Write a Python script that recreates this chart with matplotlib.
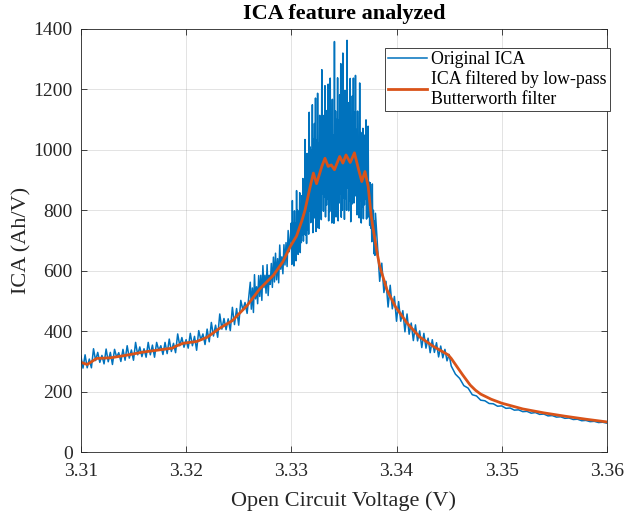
import numpy as np
import matplotlib
matplotlib.use('Agg')
import matplotlib.pyplot as plt

plt.rcParams['font.family'] = ['Liberation Serif', 'DejaVu Serif']

# low-pass Butterworth filtered ICA (V, Ah/V)
filt_v = [3.3100, 3.3106, 3.3115, 3.3128, 3.3144, 3.3159, 3.3172, 3.3187, 3.3190,
          3.3197, 3.3210, 3.3220, 3.3232, 3.3244, 3.3258, 3.3270, 3.3283, 3.3292,
          3.3299, 3.3305, 3.3310, 3.3313, 3.3318, 3.3321, 3.3324, 3.3329, 3.3332,
          3.3335, 3.3338, 3.3341, 3.3346, 3.3349, 3.3352, 3.3356, 3.3360, 3.3364,
          3.3367, 3.3370, 3.3373, 3.3376, 3.3378, 3.3381, 3.3384, 3.3391, 3.3399,
          3.3410, 3.3422, 3.3435, 3.3449, 3.3452, 3.3458, 3.3463, 3.3470, 3.3475,
          3.3480, 3.3490, 3.3500, 3.3520, 3.3540, 3.3560, 3.3580, 3.3600]
filt_ica = [297, 290, 310, 312, 321, 331, 337, 344, 350,
            360, 366, 380, 410, 435, 485, 540, 585, 630,
            680, 715, 765, 800, 879, 923, 888, 945, 972,
            945, 950, 934, 978, 956, 983, 958, 990, 934,
            895, 928, 880, 780, 735, 670, 615, 536, 481,
            427, 381, 350, 322, 310, 280, 255, 222, 205,
            192, 175, 162, 143, 130, 119, 109, 100]

# original (noisy) ICA in five stretches
raw_a = [318, 278, 322, 279, 308, 279, 342, 303, 330, 297, 320, 292, 341, 299, 330,
         290, 340, 314, 329, 300, 340, 304, 352, 311, 338, 304, 363, 322, 348, 316,
         342, 314, 363, 322, 354, 314, 363, 337, 352, 323, 363, 326, 374, 333, 360,
         329, 391, 352, 379, 347, 372, 344, 393, 352, 383, 337, 402, 371, 391, 356,
         407, 365, 429, 384, 420, 380, 457, 407, 442, 405, 441, 402, 479, 422, 475,
         420, 502, 470, 495, 459, 527]
raw_b = [562, 473, 543, 462, 587, 507, 547, 491, 584, 515, 585, 502, 617, 544, 585,
         526, 620, 518, 585, 555, 624, 545, 645, 563, 658, 570, 640, 560, 685, 605,
         646, 590, 686, 619, 693, 614, 733, 663, 708]
raw_peak = [758, 621, 832, 646, 757, 616, 798, 647, 757, 633, 865, 675, 800, 654, 795,
            682, 858, 660, 808, 693, 848, 717, 905, 698, 857, 723, 1034, 718, 907, 690,
            988, 735, 926, 721, 1124, 797, 1009, 759, 998, 804, 1149, 726, 1035, 774, 1087,
            791, 1171, 730, 1032, 742, 1187, 791, 1023, 740, 1114, 795, 1030, 769, 1265, 855,
            1114, 797, 1091, 844, 1212, 778, 1075, 817, 1130, 836, 1217, 765, 1091, 796, 1237,
            836, 1062, 758, 1167, 802, 1050, 757, 1358, 839, 1128, 778, 1100, 826, 1238, 765,
            1099, 824, 1182, 855, 1285, 777, 1130, 800, 1320, 841, 1095, 770, 1196, 839, 1094,
            800, 1362, 874, 1156, 798, 1112, 831, 1236, 762, 1096, 820, 1178, 858, 1237, 824,
            1125, 847, 1246, 867, 1067, 785, 1128, 822, 1024, 775, 1221, 830, 1058, 758, 983,
            810, 1071, 772, 994, 818, 1049, 836, 1099, 771, 995, 776, 1078, 780, 893, 750,
            891, 741, 819, 696, 887, 706, 800, 656, 765, 651, 790]
raw_c = [680, 565, 625, 528, 565, 480, 552, 474, 515, 433, 498, 433, 468, 398, 457,
         390, 427, 369, 421, 368, 401, 346, 393, 344, 377, 329, 372, 330, 362, 315,
         351, 312, 340, 302, 323]
raw_d = [285, 258, 244, 220, 212, 190, 186, 172, 170, 161, 160, 152, 153, 145, 146,
         139, 140, 134, 135, 129, 131, 125, 126, 120, 121, 116, 117, 112, 113, 108,
         109, 104, 105, 101, 102, 98, 99, 96]

raw_v = np.concatenate([np.linspace(3.3100, 3.3260, len(raw_a)),
                        np.linspace(3.3261, 3.3299, len(raw_b)),
                        np.linspace(3.3300, 3.3380, len(raw_peak)),
                        np.linspace(3.3382, 3.3450, len(raw_c)),
                        np.linspace(3.3452, 3.3600, len(raw_d))])
raw_ica = np.concatenate([raw_a, raw_b, raw_peak, raw_c, raw_d])

x_ticks = [3.31, 3.32, 3.33, 3.34, 3.35, 3.36]
y_ticks = [0, 200, 400, 600, 800, 1000, 1200, 1400]

fig = plt.figure(figsize=(6.27, 5.15), dpi=100)
ax = fig.add_axes([0.129, 0.122, 0.839, 0.822])

ax.plot(raw_v, raw_ica, color='#0072BD', lw=1.1, label='Original ICA')
ax.plot(filt_v, filt_ica, color='#D95319', lw=2.0,
        label='ICA filtered by low-pass\nButterworth filter')

ax.set_xlim(3.31, 3.36)
ax.set_ylim(0, 1400)
ax.set_xticks(x_ticks)
ax.set_xticklabels([f'{t:.2f}' for t in x_ticks])
ax.set_yticks(y_ticks)
ax.grid(True, color='#262626', alpha=0.15, lw=0.6)
ax.tick_params(direction='in', top=True, right=True, labelsize=14,
               colors='#262626', length=4, width=0.6)
ax.tick_params(axis='x', pad=8)
ax.tick_params(axis='y', pad=6)
for s in ax.spines.values():
    s.set_color('#262626')
    s.set_linewidth(0.6)

ax.set_xlabel('Open Circuit Voltage (V)', fontsize=16, color='#262626', labelpad=8)
ax.set_ylabel('ICA (Ah/V)', fontsize=16, color='#262626', labelpad=1)
ax.set_title('ICA feature analyzed', fontsize=16, fontweight='bold', pad=7)

leg = ax.legend(loc='upper right', bbox_to_anchor=(1.006, 0.955), fontsize=12.8,
                frameon=True, fancybox=False, framealpha=1, edgecolor='#262626',
                borderpad=0.2, handlelength=2.2, handletextpad=0.2, labelspacing=0.1,
                borderaxespad=0)
leg.get_frame().set_linewidth(0.6)

plt.savefig('out.png', dpi=100)
